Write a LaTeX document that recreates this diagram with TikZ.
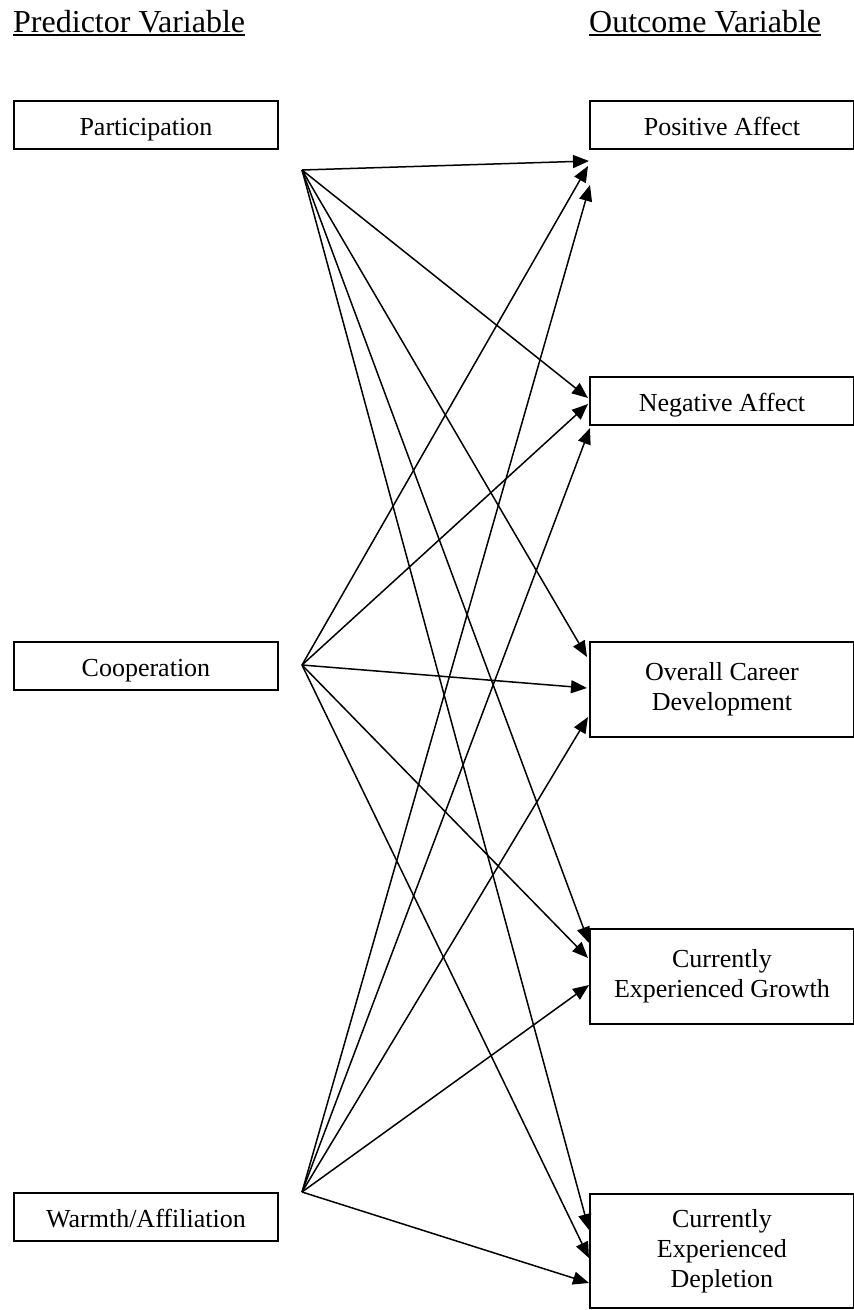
\documentclass[tikz,border=0pt]{standalone}
\usepackage{fontspec}
\setmainfont{Liberation Serif}
\usetikzlibrary{arrows.meta}
\begin{document}
\begin{tikzpicture}[x=1pt,y=-1pt,
  varbox/.style={draw, line width=1.9pt, minimum width=264pt, inner sep=0pt,
    anchor=north west, font=\fontsize{26}{30}\selectfont, align=center},
  onebox/.style={varbox, minimum height=48pt, text height=26pt, text depth=4pt},
  head/.style={inner sep=0pt, anchor=base west, font=\fontsize{32}{36}\selectfont},
  link/.style={line width=1.5pt, -{Triangle[length=16pt,width=13pt]}}]
\useasboundingbox (0,0) rectangle (854,1310);

% column headings
\node[head] (hp) at (13,32) {Predictor Variable};
\node[head] (ho) at (589,32) {Outcome Variable};
\draw[line width=2pt] ([yshift=-3pt]hp.base west) -- ([yshift=-3pt]hp.base east);
\draw[line width=2pt] ([yshift=-3pt]ho.base west) -- ([yshift=-3pt]ho.base east);

% predictors
\node[onebox] (part) at (13,100) {Participation};
\node[onebox] (coop) at (13,641) {Cooperation};
\node[onebox] (warm) at (13,1192) {Warmth/Affiliation};

% outcomes
\node[onebox] (pos) at (589,100) {Positive Affect};
\node[onebox] (neg) at (589,376) {Negative Affect};
\node[varbox, minimum height=95pt] (car) at (589,641) {Overall Career\\Development};
\node[varbox, minimum height=95pt] (gro) at (589,928) {Currently\\Experienced Growth};
\node[varbox, minimum height=114pt] (dep) at (589,1193) {Currently\\Experienced\\Depletion};

% fan origins
\coordinate (sp) at (302,170);
\coordinate (sc) at (302,665);
\coordinate (sw) at (302,1192);

% arrow ends on the outcome side
\coordinate (pos1) at (589,161);
\coordinate (pos2) at (588,166);
\coordinate (pos3) at (590,185);
\coordinate (neg1) at (588,398);
\coordinate (neg2) at (588,404);
\coordinate (neg3) at (590,428);
\coordinate (car1) at (587,657);
\coordinate (car2) at (587,688);
\coordinate (car3) at (588,717);
\coordinate (gro1) at (589,943);
\coordinate (gro2) at (588,958);
\coordinate (gro3) at (589,985);
\coordinate (dep1) at (589,1230);
\coordinate (dep2) at (589,1258);
\coordinate (dep3) at (589,1283);

\foreach \t in {pos1,neg1,car1,gro1,dep1} \draw[link] (sp) -- (\t);
\foreach \t in {pos2,neg2,car2,gro2,dep2} \draw[link] (sc) -- (\t);
\foreach \t in {pos3,neg3,car3,gro3,dep3} \draw[link] (sw) -- (\t);
\end{tikzpicture}
\end{document}
